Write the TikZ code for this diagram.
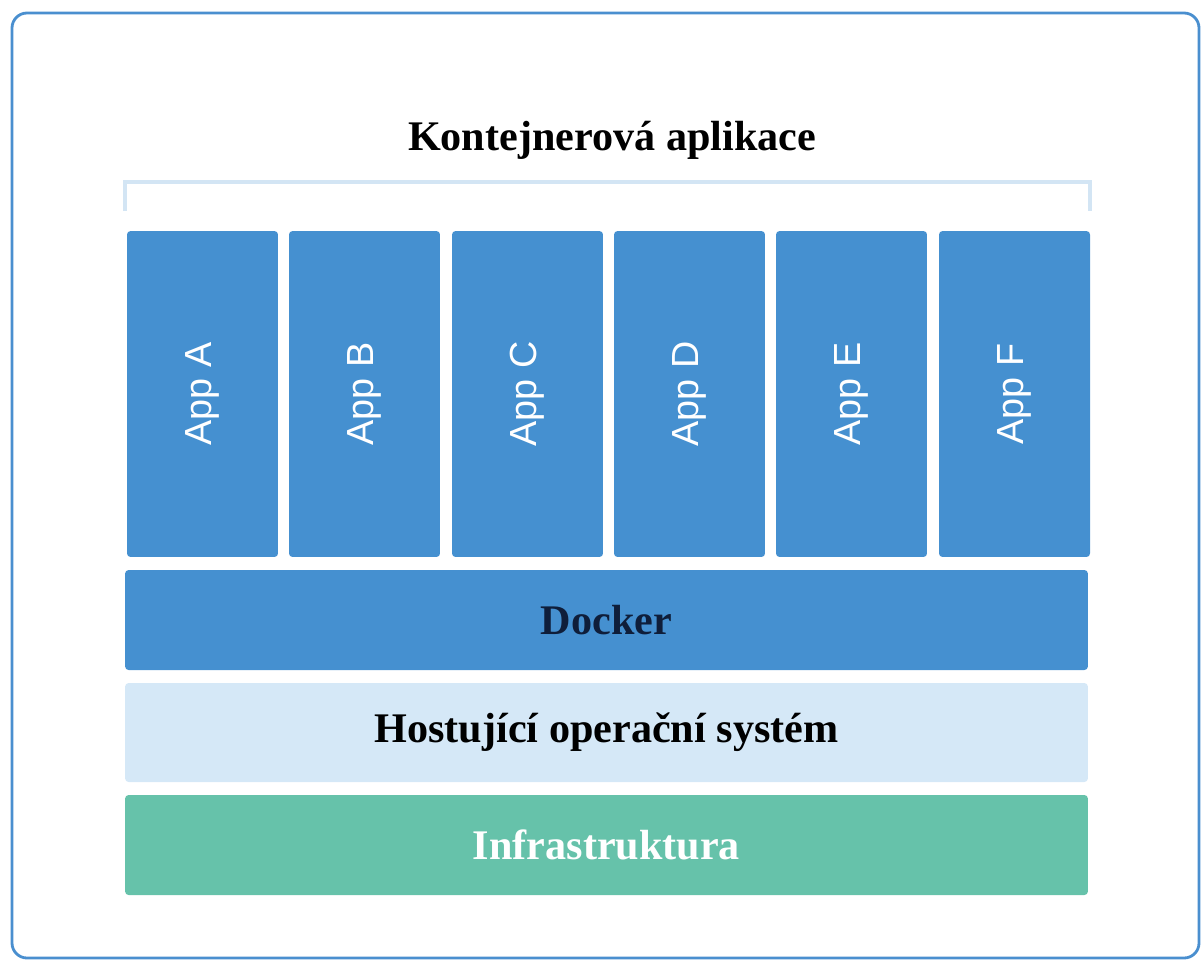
\documentclass[tikz,border=0pt]{standalone}
\usepackage{fontspec}
\setmainfont{Liberation Serif}
\setsansfont{Liberation Sans}
\usepackage{xcolor}
\usepackage{tikz}
\usetikzlibrary{positioning}

\definecolor{framecol}{HTML}{4A8FCF}
\definecolor{bracketcol}{HTML}{D3E5F4}
\definecolor{appcol}{HTML}{4590D0}
\definecolor{hostcol}{HTML}{D5E8F7}
\definecolor{infracol}{HTML}{66C2AA}
\definecolor{dockertext}{HTML}{0F1E3A}

\begin{document}
\begin{tikzpicture}[
    x=0.02cm, y=-0.02cm,
    % Styles
    appbox/.style={rectangle, fill=appcol, minimum width=6.52cm, minimum height=3.02cm, rounded corners=2pt, text=white, font=\sffamily\fontsize{21.5}{25}\selectfont, rotate=90},
    layerbox/.style={rectangle, minimum width=19.26cm, minimum height=2cm, rounded corners=2pt, font=\bfseries\fontsize{24}{28}\selectfont},
    frame/.style={draw=framecol, line width=1.6pt, rounded corners=0.3cm},
    bracket/.style={draw=bracketcol, line width=2.3pt}
]
\useasboundingbox (0,0) rectangle (1203,961);

% Outer frame
\draw[frame] (12,13) rectangle (1199,958);

% Title and bracket
\node[font=\bfseries\fontsize{24}{28}\selectfont] (title) at (612,140) {Kontejnerová aplikace};
\coordinate (bl) at (125,211);
\coordinate (br) at (1090,211);
\draw[bracket] (bl) -- (125,182) -- (1090,182) -- (br);

% Applications
\node[appbox] (appA) at (202.5,394) {App A};
\node[appbox] (appB) at (364.5,394) {App B};
\node[appbox] (appC) at (527.5,394) {App C};
\node[appbox] (appD) at (689.5,394) {App D};
\node[appbox] (appE) at (851.5,394) {App E};
\node[appbox] (appF) at (1014.5,394) {App F};

% Layers
\node[layerbox, fill=appcol, text=dockertext] (docker) at (606.5,620) {Docker};
\node[layerbox, fill=hostcol, text=black, minimum height=1.98cm] (host) at (606.5,732.5) {Hostující operační systém};
\node[layerbox, fill=infracol, text=white] (infra) at (606.5,845) {Infrastruktura};

\end{tikzpicture}
\end{document}
